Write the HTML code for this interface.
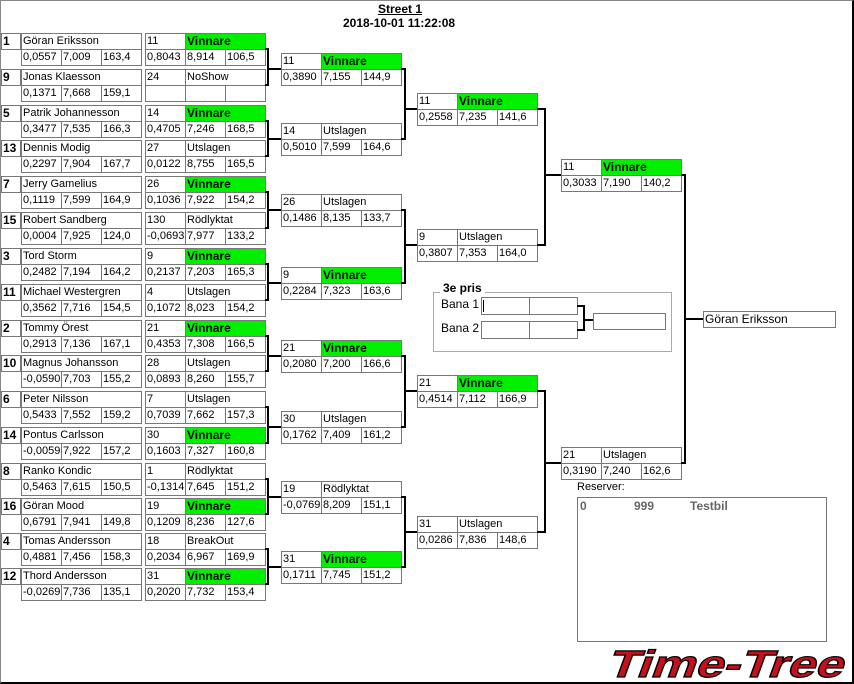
<!DOCTYPE html>
<html><head><meta charset="utf-8"><style>
html,body{margin:0;padding:0;background:#fff}
#w{position:relative;width:854px;height:684px;overflow:hidden;background:#fff}
#fr{position:absolute;left:0;top:0;width:854px;height:684px;box-sizing:border-box;border-top:1px solid #888;border-left:1px solid #888;border-right:2px solid #000;border-bottom:2px solid #000;pointer-events:none}
.bx{position:absolute;width:121px;height:33px}
.c{position:absolute;height:17px;border:1px solid #777;box-sizing:border-box;font:11px "Liberation Sans",sans-serif;line-height:15px;padding-left:1px;white-space:nowrap;overflow:hidden;background:#fff;color:#000}
.nm{left:0;top:0;width:121px}
.n{left:0;top:0;width:41px}
.s{left:40px;top:0;width:81px}
.g{background:#00f000;font-weight:bold;font-size:12px}
.v1{left:0;top:16px;width:41px}
.v2{left:40px;top:16px;width:41px}
.v3{left:80px;top:16px;width:41px}
.sd{position:absolute;left:1px;width:20px;height:17px;border:1px solid #777;box-sizing:border-box;font:bold 12px "Liberation Sans",sans-serif;line-height:15px;padding-left:1px}
.t{position:absolute;font:bold 12px "Liberation Sans",sans-serif;white-space:nowrap}
svg{position:absolute;left:0;top:0}
</style></head><body><div id="w">
<div class="t" style="left:378px;top:2px;text-decoration:underline">Street 1</div>
<div class="t" style="left:343px;top:16px">2018-10-01 11:22:08</div>

<div class="sd" style="top:33px">1</div><div class="bx" style="left:21px;top:33px"><div class="c nm">Göran Eriksson</div><div class="c v1">0,0557</div><div class="c v2">7,009</div><div class="c v3">163,4</div></div>
<div class="bx" style="left:145px;top:33px"><div class="c n">11</div><div class="c s g">Vinnare</div><div class="c v1">0,8043</div><div class="c v2">8,914</div><div class="c v3">106,5</div></div>
<div class="sd" style="top:69px">9</div><div class="bx" style="left:21px;top:69px"><div class="c nm">Jonas Klaesson</div><div class="c v1">0,1371</div><div class="c v2">7,668</div><div class="c v3">159,1</div></div>
<div class="bx" style="left:145px;top:69px"><div class="c n">24</div><div class="c s">NoShow</div><div class="c v1"></div><div class="c v2"></div><div class="c v3"></div></div>

<div class="sd" style="top:105px">5</div><div class="bx" style="left:21px;top:105px"><div class="c nm">Patrik Johannesson</div><div class="c v1">0,3477</div><div class="c v2">7,535</div><div class="c v3">166,3</div></div>
<div class="bx" style="left:145px;top:105px"><div class="c n">14</div><div class="c s g">Vinnare</div><div class="c v1">0,4705</div><div class="c v2">7,246</div><div class="c v3">168,5</div></div>
<div class="sd" style="top:140px">13</div><div class="bx" style="left:21px;top:140px"><div class="c nm">Dennis Modig</div><div class="c v1">0,2297</div><div class="c v2">7,904</div><div class="c v3">167,7</div></div>
<div class="bx" style="left:145px;top:140px"><div class="c n">27</div><div class="c s">Utslagen</div><div class="c v1">0,0122</div><div class="c v2">8,755</div><div class="c v3">165,5</div></div>

<div class="sd" style="top:176px">7</div><div class="bx" style="left:21px;top:176px"><div class="c nm">Jerry Gamelius</div><div class="c v1">0,1119</div><div class="c v2">7,599</div><div class="c v3">164,9</div></div>
<div class="bx" style="left:145px;top:176px"><div class="c n">26</div><div class="c s g">Vinnare</div><div class="c v1">0,1036</div><div class="c v2">7,922</div><div class="c v3">154,2</div></div>
<div class="sd" style="top:212px">15</div><div class="bx" style="left:21px;top:212px"><div class="c nm">Robert Sandberg</div><div class="c v1">0,0004</div><div class="c v2">7,925</div><div class="c v3">124,0</div></div>
<div class="bx" style="left:145px;top:212px"><div class="c n">130</div><div class="c s">Rödlyktat</div><div class="c v1">-0,0693</div><div class="c v2">7,977</div><div class="c v3">133,2</div></div>

<div class="sd" style="top:248px">3</div><div class="bx" style="left:21px;top:248px"><div class="c nm">Tord Storm</div><div class="c v1">0,2482</div><div class="c v2">7,194</div><div class="c v3">164,2</div></div>
<div class="bx" style="left:145px;top:248px"><div class="c n">9</div><div class="c s g">Vinnare</div><div class="c v1">0,2137</div><div class="c v2">7,203</div><div class="c v3">165,3</div></div>
<div class="sd" style="top:284px">11</div><div class="bx" style="left:21px;top:284px"><div class="c nm">Michael Westergren</div><div class="c v1">0,3562</div><div class="c v2">7,716</div><div class="c v3">154,5</div></div>
<div class="bx" style="left:145px;top:284px"><div class="c n">4</div><div class="c s">Utslagen</div><div class="c v1">0,1072</div><div class="c v2">8,023</div><div class="c v3">154,2</div></div>

<div class="sd" style="top:320px">2</div><div class="bx" style="left:21px;top:320px"><div class="c nm">Tommy Örest</div><div class="c v1">0,2913</div><div class="c v2">7,136</div><div class="c v3">167,1</div></div>
<div class="bx" style="left:145px;top:320px"><div class="c n">21</div><div class="c s g">Vinnare</div><div class="c v1">0,4353</div><div class="c v2">7,308</div><div class="c v3">166,5</div></div>
<div class="sd" style="top:355px">10</div><div class="bx" style="left:21px;top:355px"><div class="c nm">Magnus Johansson</div><div class="c v1">-0,0590</div><div class="c v2">7,703</div><div class="c v3">155,2</div></div>
<div class="bx" style="left:145px;top:355px"><div class="c n">28</div><div class="c s">Utslagen</div><div class="c v1">0,0893</div><div class="c v2">8,260</div><div class="c v3">155,7</div></div>

<div class="sd" style="top:391px">6</div><div class="bx" style="left:21px;top:391px"><div class="c nm">Peter Nilsson</div><div class="c v1">0,5433</div><div class="c v2">7,552</div><div class="c v3">159,2</div></div>
<div class="bx" style="left:145px;top:391px"><div class="c n">7</div><div class="c s">Utslagen</div><div class="c v1">0,7039</div><div class="c v2">7,662</div><div class="c v3">157,3</div></div>
<div class="sd" style="top:427px">14</div><div class="bx" style="left:21px;top:427px"><div class="c nm">Pontus Carlsson</div><div class="c v1">-0,0059</div><div class="c v2">7,922</div><div class="c v3">157,2</div></div>
<div class="bx" style="left:145px;top:427px"><div class="c n">30</div><div class="c s g">Vinnare</div><div class="c v1">0,1603</div><div class="c v2">7,327</div><div class="c v3">160,8</div></div>

<div class="sd" style="top:463px">8</div><div class="bx" style="left:21px;top:463px"><div class="c nm">Ranko Kondic</div><div class="c v1">0,5463</div><div class="c v2">7,615</div><div class="c v3">150,5</div></div>
<div class="bx" style="left:145px;top:463px"><div class="c n">1</div><div class="c s">Rödlyktat</div><div class="c v1">-0,1314</div><div class="c v2">7,645</div><div class="c v3">151,2</div></div>
<div class="sd" style="top:498px">16</div><div class="bx" style="left:21px;top:498px"><div class="c nm">Göran Mood</div><div class="c v1">0,6791</div><div class="c v2">7,941</div><div class="c v3">149,8</div></div>
<div class="bx" style="left:145px;top:498px"><div class="c n">19</div><div class="c s g">Vinnare</div><div class="c v1">0,1209</div><div class="c v2">8,236</div><div class="c v3">127,6</div></div>

<div class="sd" style="top:533px">4</div><div class="bx" style="left:21px;top:533px"><div class="c nm">Tomas Andersson</div><div class="c v1">0,4881</div><div class="c v2">7,456</div><div class="c v3">158,3</div></div>
<div class="bx" style="left:145px;top:533px"><div class="c n">18</div><div class="c s">BreakOut</div><div class="c v1">0,2034</div><div class="c v2">6,967</div><div class="c v3">169,9</div></div>
<div class="sd" style="top:568px">12</div><div class="bx" style="left:21px;top:568px"><div class="c nm">Thord Andersson</div><div class="c v1">-0,0269</div><div class="c v2">7,736</div><div class="c v3">135,1</div></div>
<div class="bx" style="left:145px;top:568px"><div class="c n">31</div><div class="c s g">Vinnare</div><div class="c v1">0,2020</div><div class="c v2">7,732</div><div class="c v3">153,4</div></div>

<div class="bx" style="left:281px;top:53px"><div class="c n">11</div><div class="c s g">Vinnare</div><div class="c v1">0,3890</div><div class="c v2">7,155</div><div class="c v3">144,9</div></div>
<div class="bx" style="left:281px;top:123px"><div class="c n">14</div><div class="c s">Utslagen</div><div class="c v1">0,5010</div><div class="c v2">7,599</div><div class="c v3">164,6</div></div>
<div class="bx" style="left:281px;top:194px"><div class="c n">26</div><div class="c s">Utslagen</div><div class="c v1">0,1486</div><div class="c v2">8,135</div><div class="c v3">133,7</div></div>
<div class="bx" style="left:281px;top:267px"><div class="c n">9</div><div class="c s g">Vinnare</div><div class="c v1">0,2284</div><div class="c v2">7,323</div><div class="c v3">163,6</div></div>
<div class="bx" style="left:281px;top:340px"><div class="c n">21</div><div class="c s g">Vinnare</div><div class="c v1">0,2080</div><div class="c v2">7,200</div><div class="c v3">166,6</div></div>
<div class="bx" style="left:281px;top:411px"><div class="c n">30</div><div class="c s">Utslagen</div><div class="c v1">0,1762</div><div class="c v2">7,409</div><div class="c v3">161,2</div></div>
<div class="bx" style="left:281px;top:481px"><div class="c n">19</div><div class="c s">Rödlyktat</div><div class="c v1">-0,0769</div><div class="c v2">8,209</div><div class="c v3">151,1</div></div>
<div class="bx" style="left:281px;top:551px"><div class="c n">31</div><div class="c s g">Vinnare</div><div class="c v1">0,1711</div><div class="c v2">7,745</div><div class="c v3">151,2</div></div>

<div class="bx" style="left:417px;top:93px"><div class="c n">11</div><div class="c s g">Vinnare</div><div class="c v1">0,2558</div><div class="c v2">7,235</div><div class="c v3">141,6</div></div>
<div class="bx" style="left:417px;top:229px"><div class="c n">9</div><div class="c s">Utslagen</div><div class="c v1">0,3807</div><div class="c v2">7,353</div><div class="c v3">164,0</div></div>
<div class="bx" style="left:417px;top:375px"><div class="c n">21</div><div class="c s g">Vinnare</div><div class="c v1">0,4514</div><div class="c v2">7,112</div><div class="c v3">166,9</div></div>
<div class="bx" style="left:417px;top:516px"><div class="c n">31</div><div class="c s">Utslagen</div><div class="c v1">0,0286</div><div class="c v2">7,836</div><div class="c v3">148,6</div></div>

<div class="bx" style="left:561px;top:159px"><div class="c n">11</div><div class="c s g">Vinnare</div><div class="c v1">0,3033</div><div class="c v2">7,190</div><div class="c v3">140,2</div></div>
<div class="bx" style="left:561px;top:447px"><div class="c n">21</div><div class="c s">Utslagen</div><div class="c v1">0,3190</div><div class="c v2">7,240</div><div class="c v3">162,6</div></div>

<div class="c" style="left:703px;top:311px;width:133px;height:17px;font-size:12px">Göran Eriksson</div>

<div style="position:absolute;left:433px;top:292px;width:239px;height:60px;border:1px solid #aaa;box-sizing:border-box"></div>
<div class="t" style="left:440px;top:281px;background:#fff;padding:0 3px">3e pris</div>
<div class="t" style="left:441px;top:297px;font-weight:normal">Bana 1</div>
<div class="t" style="left:441px;top:321px;font-weight:normal">Bana 2</div>
<div style="position:absolute;left:481px;top:297px;width:49px;height:18px;border:1px solid #777;box-sizing:border-box"></div>
<div style="position:absolute;left:529px;top:297px;width:49px;height:18px;border:1px solid #777;box-sizing:border-box"></div>
<div style="position:absolute;left:483px;top:300px;width:1px;height:12px;background:#000"></div>
<div style="position:absolute;left:481px;top:321px;width:49px;height:18px;border:1px solid #777;box-sizing:border-box"></div>
<div style="position:absolute;left:529px;top:321px;width:49px;height:18px;border:1px solid #777;box-sizing:border-box"></div>
<div style="position:absolute;left:593px;top:313px;width:73px;height:17px;border:1px solid #777;box-sizing:border-box"></div>

<div class="t" style="left:577px;top:481px;font-weight:normal;font-size:11px">Reserver:</div>
<div style="position:absolute;left:577px;top:497px;width:250px;height:145px;border:1px solid #777;box-sizing:border-box"></div>
<div class="t" style="left:580px;top:499px;color:#666">0</div>
<div class="t" style="left:634px;top:499px;color:#666">999</div>
<div class="t" style="left:690px;top:499px;color:#666">Testbil</div>

<svg width="854" height="684" viewBox="0 0 854 684">
<g stroke="#000" stroke-width="2" fill="none">
<path d="M265 49H268V85H265M268 69H281"/>
<path d="M265 121H268V156H265M268 139H281"/>
<path d="M265 192H268V228H265M268 210H281"/>
<path d="M265 264H268V300H265M268 283H281"/>
<path d="M265 336H268V371H265M268 356H281"/>
<path d="M265 407H268V443H265M268 427H281"/>
<path d="M265 479H268V514H265M268 497H281"/>
<path d="M265 549H268V584H265M268 567H281"/>
<path d="M401 69H405V139H401M405 109H417"/>
<path d="M401 210H405V283H401M405 245H417"/>
<path d="M401 356H405V427H401M405 391H417"/>
<path d="M401 497H405V567H401M405 532H417"/>
<path d="M537 109H545V245H537M545 175H561"/>
<path d="M537 391H545V532H537M545 463H561"/>
<path d="M681 175H685V463H681M685 319H703"/>
<path d="M577 306H584V330H577M584 320H593"/>
</g>
<text x="606" y="677" font-family="Liberation Sans" font-weight="bold" font-size="38" fill="#c8101c" stroke="#000" stroke-width="1.2" textLength="236" lengthAdjust="spacingAndGlyphs" transform="skewX(-20) translate(246 0)">Time-Tree</text>
</svg>
<div id="fr"></div>
</div></body></html>
